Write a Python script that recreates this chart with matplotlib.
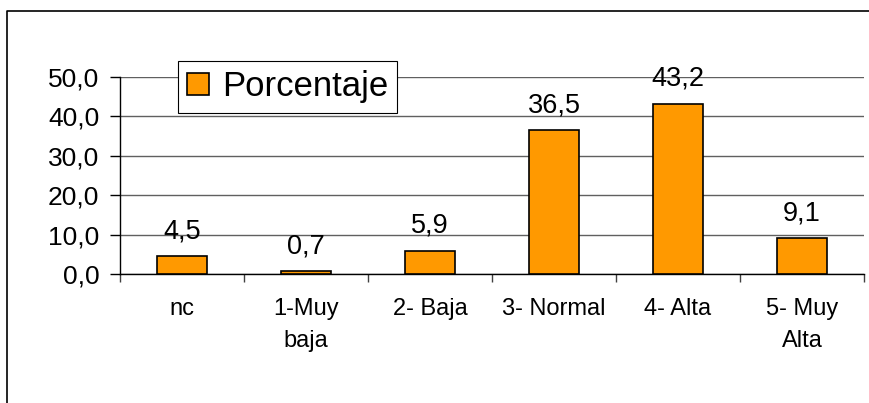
import numpy as np
import matplotlib.pyplot as plt
from matplotlib.lines import Line2D
from matplotlib.patches import Patch

plt.rcParams['font.family'] = ['Liberation Sans', 'DejaVu Sans']

categorias = ["nc", "1-Muy\nbaja", "2- Baja", "3- Normal", "4- Alta", "5- Muy\nAlta"]
porcentaje = [4.5, 0.7, 5.9, 36.5, 43.2, 9.1]
yticks = [0, 10, 20, 30, 40, 50]

W, H = 869, 403
fig = plt.figure(figsize=(W / 100, H / 100), dpi=100)

# marco exterior (cortado a la derecha y abajo)
fig.add_artist(Line2D([7.5 / W, 7.5 / W, 1.0], [0.0, 1 - 10.5 / H, 1 - 10.5 / H],
                      transform=fig.transFigure, color='black', lw=1.2))

ax = fig.add_axes([120 / W, (H - 274) / H, (864 - 120) / W, (274 - 77) / H])

x = np.arange(len(categorias))
bars = ax.bar(x, porcentaje, width=0.41, color='#FF9900', edgecolor='black', lw=1.2, zorder=3)

for xi, v in zip(x, porcentaje):
    ax.annotate(f"{v:.1f}".replace('.', ','), (xi, v), xytext=(0, 13), textcoords='offset points',
                ha='center', va='baseline', fontsize=19.5)

ax.set_xlim(-0.5, len(categorias) - 0.5)
ax.set_ylim(0, 50)
ax.set_yticks(yticks)
ax.set_yticklabels([f"{t:.1f}".replace('.', ',') for t in yticks], fontsize=19)
ax.yaxis.grid(True, color='#606060', lw=1.0, zorder=0)
ax.tick_params(axis='y', length=7, width=1, pad=8)

ax.set_xticks(np.arange(-0.5, len(categorias)), labels=[''] * (len(categorias) + 1))
ax.set_xticks(x, labels=categorias, minor=True)
ax.tick_params(axis='x', which='major', length=6, width=1, direction='out', colors='#404040')
ax.tick_params(axis='x', which='minor', length=0, pad=17.5, labelsize=17)
for lab in ax.get_xticklabels(minor=True):
    lab.set_linespacing(1.55)

for s in ['top', 'right']:
    ax.spines[s].set_visible(False)
ax.spines['left'].set_linewidth(1)
ax.spines['bottom'].set_linewidth(1)

leg = ax.legend([Patch(facecolor='#FF9900', edgecolor='black', lw=1.2)], ['Porcentaje'],
                loc='upper left', bbox_to_anchor=((178 - 120) / (864 - 120), 1 + (77 - 61) / (274 - 77)),
                fontsize=25, frameon=True, fancybox=False, edgecolor='black', framealpha=1,
                borderpad=0.27, handlelength=0.62, handleheight=0.62, handletextpad=0.37,
                borderaxespad=0)
leg.get_frame().set_linewidth(0.8)
leg.set_zorder(5)

fig.savefig('out.png', dpi=100)
